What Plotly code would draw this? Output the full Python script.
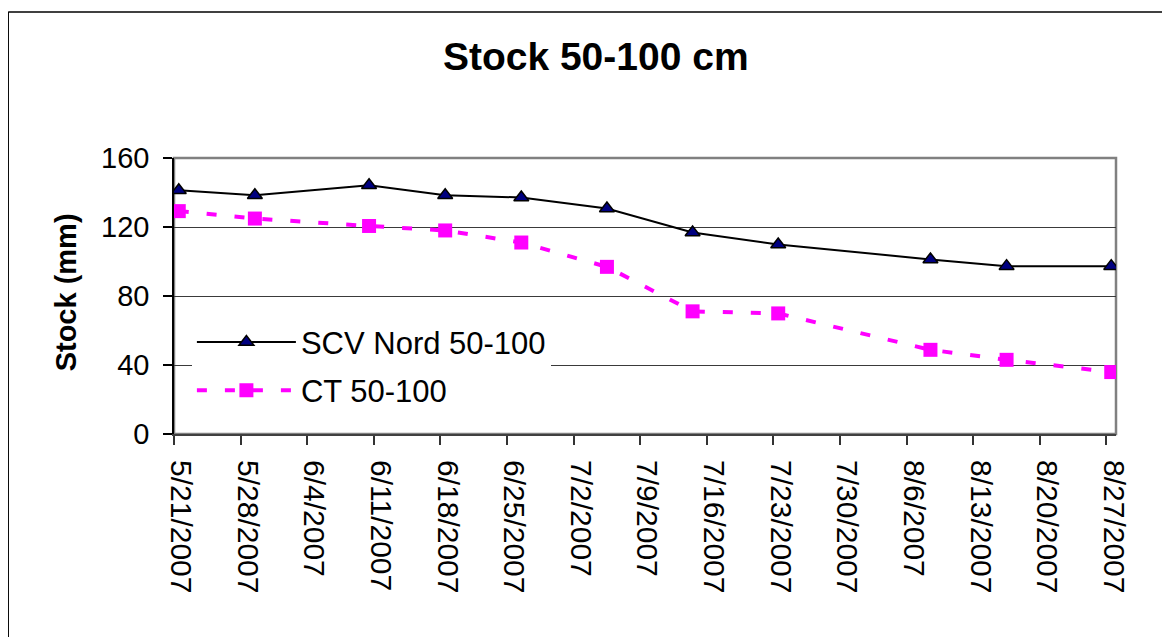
import plotly.graph_objects as go

dates = ["2007-05-21", "2007-05-29", "2007-06-10", "2007-06-18", "2007-06-26",
         "2007-07-05", "2007-07-14", "2007-07-23", "2007-08-08", "2007-08-16", "2007-08-27"]
scv_nord = [141.3, 138.4, 144.2, 138.4, 137.1, 130.7, 116.8, 109.9, 101.2, 97.3, 97.3]
ct = [129.2, 124.9, 120.6, 118.0, 111.0, 96.9, 71.1, 69.9, 48.8, 43.0, 35.9]
series_names = ["SCV Nord 50-100", "CT 50-100"]
title_text = "Stock 50-100 cm"
y_title = "Stock (mm)"
y_ticks = [0, 40, 80, 120, 160]

# Excel date axis centres each point within its day
x_vals = [d + " 12:00" for d in dates]

FONT = "Arial, Liberation Sans, sans-serif"

fig = go.Figure()
fig.add_trace(go.Scatter(
    x=x_vals, y=scv_nord, name=series_names[0], mode="lines+markers",
    line=dict(color="black", width=2),
    marker=dict(symbol="triangle-up", size=13, color="#000080",
                line=dict(color="black", width=1.5)),
    legendgroup="a"))
fig.add_trace(go.Scatter(
    x=x_vals, y=ct, name=series_names[1], mode="lines+markers",
    line=dict(color="#FF00FF", width=4, dash="10px,18px"),
    marker=dict(symbol="square", size=14, color="#FF00FF"),
    legendgroup="b"))

fig.update_layout(
    width=1162, height=629,
    margin=dict(l=166, r=54, t=150, b=203, pad=0),
    paper_bgcolor="white", plot_bgcolor="white",
    font=dict(family=FONT, color="black"),
    title=dict(text="<b>%s</b>" % title_text, x=0.5058, y=0.9226,
               xanchor="center", yanchor="middle",
               font=dict(size=39, family=FONT, color="black")),
    showlegend=True,
    legend=dict(x=0.019, y=0.430, xanchor="left", yanchor="top",
                bgcolor="white", borderwidth=0, itemwidth=99,
                font=dict(size=31, family=FONT, color="black"),
                tracegroupgap=5, traceorder="grouped"),
    xaxis=dict(
        type="date", range=["2007-05-21", "2007-08-28"],
        tick0="2007-05-21", dtick=7 * 86400000, tickformat="%-m/%-d/%Y",
        tickangle=90, ticks="outside", ticklen=9, tickwidth=1.5, tickcolor="#333",
        showline=True, linecolor="#404040", linewidth=2,
        showgrid=False, zeroline=False,
        tickfont=dict(size=30, family=FONT, color="black"),
        ticklabelstandoff=9, ticklabelshift=7),
    yaxis=dict(
        range=[0, 160], tickvals=y_ticks, ticks="outside", ticklen=9,
        tickwidth=1.5, tickcolor="black",
        showline=True, linecolor="black", linewidth=1.5,
        showgrid=True, gridcolor="#3a3a3a", gridwidth=1, zeroline=False,
        tickfont=dict(size=29, family=FONT, color="black"),
        ticklabelstandoff=8),
    annotations=[dict(text="<b>%s</b>" % y_title, textangle=-90,
                      xref="paper", yref="paper", x=-0.1147, y=0.513,
                      xanchor="center", yanchor="middle", showarrow=False,
                      font=dict(size=29, family=FONT, color="black"))],
    shapes=[
        dict(type="rect", xref="paper", yref="paper", x0=0, y0=0, x1=1, y1=1,
             line=dict(color="#808080", width=2.5), layer="below"),
        dict(type="line", xref="paper", yref="paper", x0=-0.176, y0=1.529,
             x1=1.1, y1=1.529, line=dict(color="black", width=1.5)),
        dict(type="line", xref="paper", yref="paper", x0=-0.176, y0=1.529,
             x1=-0.176, y1=-0.8, line=dict(color="black", width=1.5)),
    ],
)

fig.write_html("out.html")
